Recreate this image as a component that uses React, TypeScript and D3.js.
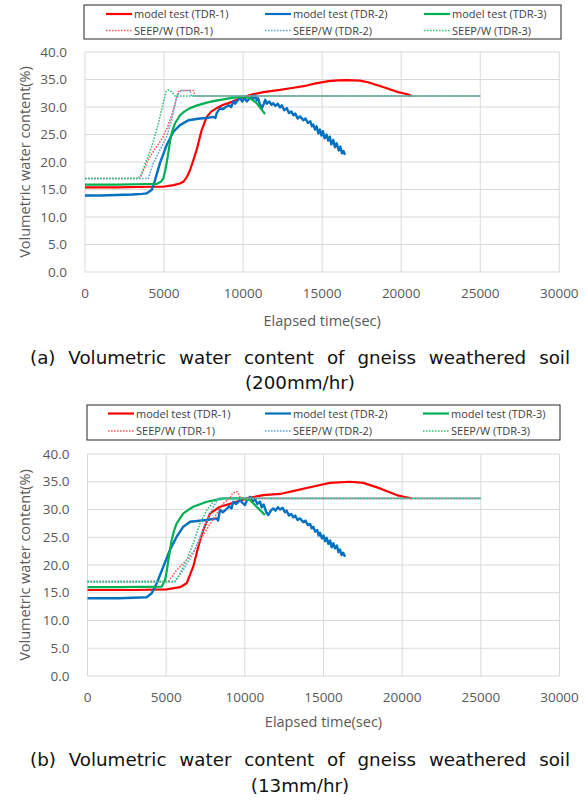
import React, { useEffect, useRef } from 'react';
import * as d3 from 'd3';

// ---------- data ----------
const xTicks = [0, 5000, 10000, 15000, 20000, 25000, 30000];
const yTicks = [0, 5, 10, 15, 20, 25, 30, 35, 40];
const legendLabels = [
  'model test (TDR-1)', 'model test (TDR-2)', 'model test (TDR-3)',
  'SEEP/W (TDR-1)', 'SEEP/W (TDR-2)', 'SEEP/W (TDR-3)',
];
const seriesColors = ['#FF0000', '#0070C0', '#00B050', '#FF5B5B', '#5BA3E0', '#33C47A'];
const seriesDotted = [false, false, false, true, true, true];

// (a) 200mm/hr
const aTest1: [number, number][] = [[0,15.4],[2000,15.4],[4000,15.5],[4930,15.5],[5600,15.8],[6000,16.1],[6220,16.4],[6450,17.3],[6640,18.5],[6850,20.3],[7060,22.2],[7380,25.8],[7700,28.2],[8000,29.2],[8330,29.8],[8750,30.4],[9170,30.8],[9600,31.3],[10010,31.8],[10600,32.3],[11280,32.7],[12330,33.1],[13200,33.5],[14020,33.9],[14600,34.3],[15390,34.7],[16000,34.85],[16550,34.9],[17390,34.8],[17900,34.5],[18450,34.0],[19000,33.5],[19500,33.0],[19800,32.7],[20130,32.5],[20400,32.3],[20660,32.0]];
const aTest2: [number, number][] = [[0,13.9],[1000,13.9],[2000,14.0],[3000,14.1],[3600,14.2],[3900,14.3],[4220,14.9],[4430,16.7],[4740,19.8],[5170,23.1],[5590,25.5],[6010,26.7],[6540,27.6],[7270,27.9],[7700,28.0],[8120,28.2],[8250,28.0],[8330,28.9],[8540,29.8],[8700,29.6],[8960,30.1],[9100,30.3],[9250,30.0],[9380,31.0],[9500,30.6],[9650,31.2],[9800,31.6],[9950,31.0],[10100,31.7],[10230,31.0],[10400,31.5],[10550,32.0],[10650,31.5],[10750,32.2],[10860,31.2],[10950,31.6],[11050,30.6],[11180,29.8],[11300,30.5],[11400,31.3],[11500,30.6],[11650,31.0],[11800,30.4],[11910,30.7],[12050,30.2],[12200,30.6],[12330,29.9],[12450,30.3],[12600,29.4],[12760,29.8],[12900,28.9],[13050,29.2],[13180,28.5],[13300,28.8],[13450,27.9],[13600,28.3],[13810,27.6],[13950,27.9],[14100,27.1],[14250,27.4],[14350,26.5],[14440,26.8],[14550,25.9],[14650,26.5],[14760,25.2],[14860,25.9],[14950,24.8],[15050,25.6],[15150,24.3],[15280,25.0],[15380,23.9],[15480,24.6],[15580,23.2],[15700,24.0],[15810,22.7],[15920,23.4],[16050,22.1],[16150,22.8],[16250,21.6],[16350,22.0],[16440,21.3]];
const aTest3: [number, number][] = [[0,15.9],[2000,15.9],[4000,16.0],[4530,16.0],[4800,16.4],[4950,17.0],[5080,18.5],[5200,20.4],[5320,22.6],[5420,24.6],[5560,26.0],[5690,27.0],[6010,28.5],[6300,29.2],[6640,29.8],[7100,30.3],[7700,30.8],[8200,31.1],[8750,31.4],[9400,31.7],[10010,31.9],[10440,31.6],[10860,30.7],[11100,29.8],[11390,28.7]];
const aSeep1: [number, number][] = [[0,17.0],[3480,17.0],[3800,19.1],[4110,21.0],[4530,22.8],[4950,24.6],[5270,26.7],[5590,29.5],[5900,32.8],[6010,33.0],[6850,33.0],[6960,32.0],[25000,32.0]];
const aSeep2: [number, number][] = [[0,17.0],[4000,17.0],[4320,19.8],[4740,22.2],[5170,24.6],[5480,27.6],[5800,31.9],[6070,33.0],[6640,33.0],[6750,32.0],[25000,32.0]];
const aSeep3: [number, number][] = [[0,17.0],[3370,17.0],[3580,17.9],[3900,20.4],[4220,22.8],[4530,25.8],[4850,29.5],[5120,32.8],[5270,33.1],[5480,32.8],[5690,32.0],[25000,32.0]];

// (b) 13mm/hr
const bTest1: [number, number][] = [[0,15.5],[3000,15.5],[5030,15.6],[5880,16.0],[6300,16.7],[6720,19.7],[7040,23.3],[7360,26.3],[7790,29.3],[8420,30.5],[9270,31.2],[10120,32.0],[11170,32.6],[12240,32.8],[13200,33.4],[14140,34.0],[15410,34.8],[16680,35.0],[17530,34.8],[18590,33.8],[19650,32.6],[20100,32.3],[20610,32.0]];
const bTest2: [number, number][] = [[0,14.0],[2000,14.0],[3760,14.2],[4080,14.9],[4400,16.7],[4820,19.7],[5240,22.7],[5670,25.1],[6090,26.9],[6520,27.8],[7580,28.1],[8000,28.3],[8210,28.4],[8300,28.0],[8420,29.9],[8600,29.5],[8850,30.1],[9000,30.6],[9150,30.2],[9270,31.4],[9450,31.0],[9690,31.7],[9850,31.2],[10010,30.8],[10150,31.8],[10330,32.3],[10500,31.4],[10650,31.9],[10800,31.0],[10970,31.4],[11070,30.4],[11200,30.9],[11350,29.6],[11490,29.0],[11650,29.8],[11810,30.2],[11950,29.8],[12100,30.4],[12240,30.0],[12400,30.3],[12550,29.5],[12660,29.8],[12800,28.9],[12950,29.2],[13080,28.6],[13200,28.9],[13350,28.1],[13500,28.4],[13720,27.7],[13850,28.0],[14000,27.2],[14150,27.4],[14250,26.6],[14350,26.9],[14480,26.0],[14600,26.3],[14700,25.3],[14780,25.8],[14900,24.8],[15000,25.3],[15100,24.3],[15200,24.9],[15310,23.8],[15420,24.4],[15520,23.2],[15630,23.9],[15730,23.0],[15850,23.5],[15950,22.3],[16050,22.8],[16150,21.8],[16250,22.2],[16370,21.5]];
const bTest3: [number, number][] = [[0,16.0],[2000,16.0],[4710,16.1],[4930,17.3],[5040,19.0],[5140,20.9],[5250,22.8],[5350,24.5],[5500,26.2],[5670,27.5],[6090,29.3],[6720,30.5],[7580,31.4],[8630,32.0],[9900,32.0],[10330,31.7],[10750,30.5],[11000,29.8],[11280,29.0]];
const bSeep1: [number, number][] = [[0,17.0],[5140,17.0],[5670,19.1],[6300,20.9],[6830,22.7],[7150,24.5],[7600,26.5],[7880,27.8],[8300,29.6],[8620,31.1],[8900,31.7],[9060,32.0],[9200,32.8],[9380,33.2],[9520,33.2],[9740,32.0],[25000,32.0]];
const bSeep2: [number, number][] = [[0,17.0],[5560,17.0],[6090,19.1],[6720,22.1],[7260,25.7],[7680,28.7],[8000,30.5],[8310,32.0],[25000,32.0]];
const bSeep3: [number, number][] = [[0,17.0],[5560,17.0],[5880,18.5],[6300,20.9],[6720,23.9],[7150,27.5],[7580,29.9],[8000,31.4],[8310,32.0],[25000,32.0]];

const captionA = ['(a) Volumetric water content of gneiss weathered soil', '(200mm/hr)'];
const captionB = ['(b) Volumetric water content of gneiss weathered soil', '(13mm/hr)'];
const xTitle = 'Elapsed time(sec)';
const yTitle = 'Volumetric water content(%)';

// ---------- components ----------
const AXIS_FONT = "'Open Sans', sans-serif";
const CAP_FONT = "'DejaVu Sans', sans-serif";
const CAP_SIZE = 18.3;

function JustifiedLine({ text, x0, x1, y }: { text: string; x0: number; x1: number; y: number }) {
  const ref = useRef<SVGGElement>(null);
  useEffect(() => {
    const g = d3.select(ref.current);
    g.selectAll('*').remove();
    const words = text.split(' ');
    const nodes = words.map((w) =>
      g.append('text').attr('y', y).attr('font-family', CAP_FONT).attr('font-size', CAP_SIZE).attr('fill', '#111').text(w)
    );
    const widths = nodes.map((n) => (n.node() as SVGTextElement).getComputedTextLength());
    const total = widths.reduce((a, b) => a + b, 0);
    const gap = (x1 - x0 - total) / (words.length - 1);
    let cx = x0;
    nodes.forEach((n, i) => {
      n.attr('x', cx);
      cx += widths[i] + gap;
    });
  }, [text, x0, x1, y]);
  return <g ref={ref} />;
}

type Layout = {
  left: number; right: number; top: number; bottom: number;
  legTop: number; legBottom: number; legLeft: number; legRight: number;
  legCols: number[]; legRows: number[];
  tickY: number; xTitleY: number; capY: number[];
};

function Panel({ series, layout, caption }: { series: [number, number][][]; layout: Layout; caption: string[] }) {
  const L = layout;
  const x = d3.scaleLinear().domain([0, 30000]).range([L.left, L.right]);
  const y = d3.scaleLinear().domain([0, 40]).range([L.bottom, L.top]);
  const line = d3.line<[number, number]>().x((d) => x(d[0])).y((d) => y(d[1]));
  const sw = (i: number) => (seriesDotted[i] ? 1.6 : i === 1 ? 2.4 : 2.2);
  return (
    <g>
      {/* legend */}
      <rect x={L.legLeft} y={L.legTop} width={L.legRight - L.legLeft} height={L.legBottom - L.legTop}
        fill="#fff" stroke="#262626" strokeWidth={1} />
      {legendLabels.map((lab, i) => {
        const cx = L.legCols[i % 3];
        const cy = L.legRows[Math.floor(i / 3)];
        return (
          <g key={lab}>
            <line x1={cx} x2={cx + 26} y1={cy} y2={cy} stroke={seriesColors[i]}
              strokeWidth={seriesDotted[i] ? 1.6 : 2.2} strokeDasharray={seriesDotted[i] ? '1.6 1.4' : undefined} />
            <text x={cx + 28} y={cy + 4} fontFamily={AXIS_FONT} fontSize={11} fill="#404040">{lab}</text>
          </g>
        );
      })}
      {/* grid */}
      {yTicks.map((t) => (
        <line key={'gy' + t} x1={L.left} x2={L.right} y1={y(t)} y2={y(t)} stroke="#D9D9D9" strokeWidth={1} />
      ))}
      {xTicks.map((t) => (
        <line key={'gx' + t} x1={x(t)} x2={x(t)} y1={L.top} y2={L.bottom} stroke="#D9D9D9" strokeWidth={1} />
      ))}
      {/* tick labels */}
      {yTicks.map((t) => (
        <text key={'ly' + t} x={L.left - 18} y={y(t) + 4.7} textAnchor="end" fontFamily={AXIS_FONT}
          fontSize={13.5} fill="#595959">{t.toFixed(1)}</text>
      ))}
      {xTicks.map((t) => (
        <text key={'lx' + t} x={x(t)} y={L.tickY + 4.7} textAnchor="middle" fontFamily={AXIS_FONT}
          fontSize={13.5} fill="#595959">{t}</text>
      ))}
      {/* axis titles */}
      <text x={(L.left + L.right) / 2} y={L.xTitleY + 5} textAnchor="middle" fontFamily={AXIS_FONT}
        fontSize={14.5} fill="#595959">{xTitle}</text>
      <text transform={`translate(${30},${(L.top + L.bottom) / 2}) rotate(-90)`} textAnchor="middle"
        fontFamily={AXIS_FONT} fontSize={14.5} fill="#595959">{yTitle}</text>
      {/* series */}
      {series.map((s, i) => (
        <path key={'s' + i} d={line(s) || ''} fill="none" stroke={seriesColors[i]}
          strokeWidth={sw(i)} strokeDasharray={seriesDotted[i] ? '1.6 1.4' : undefined}
          strokeLinejoin="round" />
      ))}
      {/* caption */}
      <JustifiedLine text={caption[0]} x0={30} x1={570} y={L.capY[0] + 6.5} />
      <text x={300} y={L.capY[1] + 6.5} textAnchor="middle" fontFamily={CAP_FONT} fontSize={CAP_SIZE} fill="#111">{caption[1]}</text>
    </g>
  );
}

const layoutA: Layout = {
  left: 85, right: 559.3, top: 52, bottom: 272,
  legTop: 5, legBottom: 39, legLeft: 84, legRight: 561,
  legCols: [106, 265, 424], legRows: [14, 30.5],
  tickY: 293, xTitleY: 321, capY: [357, 382],
};
const layoutB: Layout = {
  left: 87.5, right: 559.5, top: 454, bottom: 676,
  legTop: 405, legBottom: 440, legLeft: 87, legRight: 560,
  legCols: [108, 265, 423], legRows: [413.5, 431],
  tickY: 697, xTitleY: 722, capY: [759, 785],
};

export default function App() {
  return (
    <svg width={588} height={800} style={{ position: 'absolute', left: 0, top: 0, background: '#fff' }}>
      <rect width={588} height={800} fill="#fff" />
      <Panel series={[aTest1, aTest2, aTest3, aSeep1, aSeep2, aSeep3]} layout={layoutA} caption={captionA} />
      <Panel series={[bTest1, bTest2, bTest3, bSeep1, bSeep2, bSeep3]} layout={layoutB} caption={captionB} />
    </svg>
  );
}
